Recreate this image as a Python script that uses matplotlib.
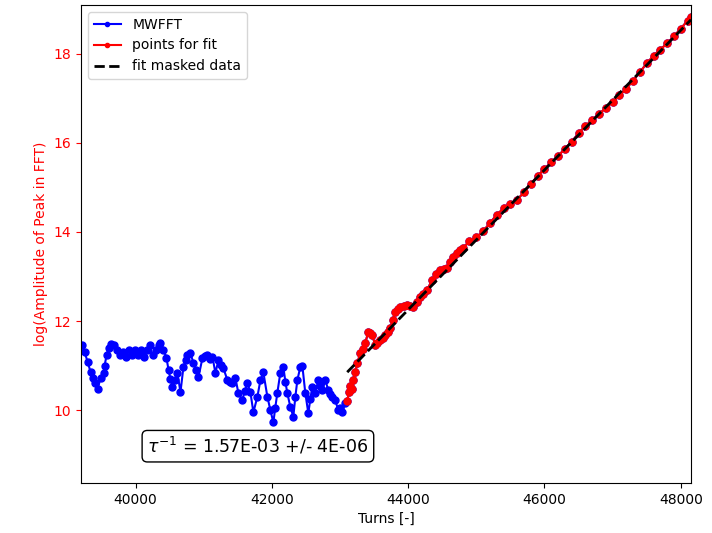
import matplotlib
matplotlib.use("Agg")
import matplotlib.pyplot as plt
import numpy as np

# MWFFT data (all points before the fit window)
turns_blue = [39209, 39253, 39297, 39341, 39370, 39399, 39443, 39487, 39531, 39546,
              39575, 39604, 39634, 39678, 39722, 39766, 39810, 39853, 39897, 39941,
              39985, 40029, 40073, 40117, 40161, 40205, 40249, 40293, 40337, 40366,
              40410, 40454, 40484, 40512, 40542, 40580, 40615, 40659, 40703, 40735,
              40762, 40806, 40850, 40890, 40923, 40982, 41020, 41055, 41090, 41128,
              41172, 41216, 41250, 41289, 41348, 41385, 41421, 41465, 41509, 41568,
              41600, 41641, 41685, 41729, 41788, 41832, 41875, 41934, 41978, 42022,
              42050, 42080, 42124, 42168, 42200, 42227, 42271, 42315, 42345, 42374,
              42418, 42447, 42491, 42535, 42565, 42593, 42637, 42681, 42710, 42740,
              42784, 42828, 42860, 42886, 42930, 42974, 43000, 43033, 43077]
amp_blue = [11.45, 11.30, 11.08, 10.85, 10.72, 10.60, 10.47, 10.72, 10.83, 11.00,
            11.23, 11.40, 11.48, 11.46, 11.35, 11.23, 11.30, 11.20, 11.35, 11.23,
            11.35, 11.23, 11.35, 11.20, 11.35, 11.46, 11.23, 11.35, 11.46, 11.50,
            11.35, 11.17, 10.90, 10.70, 10.52, 10.68, 10.83, 10.40, 10.97, 11.12,
            11.24, 11.28, 11.05, 10.90, 10.74, 11.17, 11.22, 11.24, 11.15, 11.20,
            10.83, 11.12, 11.02, 10.94, 10.67, 10.64, 10.60, 10.72, 10.38, 10.22,
            10.42, 10.60, 10.40, 9.95, 10.30, 10.67, 10.85, 10.30, 10.00, 9.72,
            10.05, 10.38, 10.83, 10.97, 10.62, 10.38, 10.07, 9.85, 10.30, 10.67,
            10.97, 11.00, 10.38, 9.93, 10.25, 10.52, 10.38, 10.67, 10.55, 10.45,
            10.67, 10.45, 10.36, 10.30, 10.22, 10.00, 10.05, 9.96, 10.16]

# points used for the fit
turns_red = [43106, 43130, 43150, 43175, 43194, 43225, 43253, 43297, 43335, 43370,
             43414, 43440, 43472, 43516, 43550, 43590, 43625, 43663, 43700, 43736,
             43775, 43810, 43845, 43883, 43935, 43985, 44030, 44073, 44125, 44176,
             44225, 44278, 44352, 44410, 44469, 44520, 44571, 44615, 44659, 44710,
             44762, 44800, 44900, 45000, 45100, 45200, 45300, 45400, 45500, 45600,
             45700, 45800, 45900, 46000, 46100, 46200, 46300, 46400, 46500, 46600,
             46700, 46800, 46900, 47000, 47100, 47200, 47300, 47400, 47500, 47600,
             47700, 47800, 47900, 48000, 48100, 48150]
amp_red = [10.20, 10.40, 10.55, 10.48, 10.67, 10.85, 11.05, 11.28, 11.36, 11.50,
           11.75, 11.72, 11.69, 11.46, 11.50, 11.57, 11.62, 11.69, 11.76, 11.84,
           12.02, 12.20, 12.26, 12.31, 12.33, 12.36, 12.33, 12.31, 12.42, 12.54,
           12.60, 12.70, 12.92, 13.05, 13.15, 13.17, 13.20, 13.33, 13.44, 13.52,
           13.60, 13.64, 13.79, 13.88, 14.02, 14.20, 14.39, 14.53, 14.63, 14.73,
           14.89, 15.08, 15.26, 15.42, 15.57, 15.71, 15.87, 16.03, 16.22, 16.38,
           16.52, 16.65, 16.79, 16.92, 17.07, 17.22, 17.40, 17.59, 17.79, 17.96,
           18.10, 18.24, 18.40, 18.57, 18.75, 18.82]

# fit parameters
tau_inv = 1.57e-3
tau_inv_err = 4e-6
fit_t0 = 43106
fit_y0 = 10.85

fig = plt.figure(figsize=(7.12, 5.33), dpi=100)
ax = fig.add_axes([0.1138, 0.0938, 0.8567, 0.8968])

all_t = turns_blue + turns_red
all_a = amp_blue + amp_red
ax.plot(all_t, all_a, '.-', color='blue', ms=10, lw=1.5, label='MWFFT')
ax.plot(turns_red, amp_red, '.-', color='red', ms=10, lw=1.5, label='points for fit')
t_fit = np.array([turns_red[0], turns_red[-1]])
ax.plot(t_fit, fit_y0 + tau_inv * (t_fit - fit_t0), '--', color='black', lw=2,
        label='fit masked data')

ax.set_xlim(39200, 48150)
ax.set_ylim(8.36, 19.1)
ax.set_xticks([40000, 42000, 44000, 46000, 48000])
ax.set_yticks([10, 12, 14, 16, 18])
ax.tick_params(axis='y', colors='red')
ax.set_xlabel('Turns [-]')
ax.set_ylabel('log(Amplitude of Peak in FFT)', color='red')
ax.legend(loc='upper left', markerscale=0.6)
ax.text(0.29, 0.077, r'$\tau^{-1}$' + ' = 1.57E-03 +/- 4E-06', transform=ax.transAxes,
        ha='center', va='center', fontsize=12.5,
        bbox=dict(boxstyle='round', facecolor='white', edgecolor='black'))

fig.savefig('out.png', dpi=100)
